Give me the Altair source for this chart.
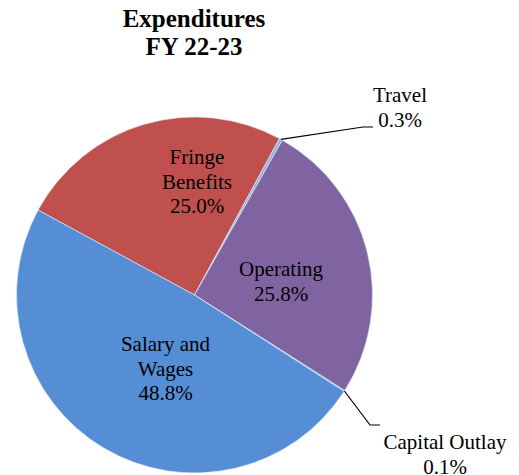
import math
import altair as alt
import pandas as pd

# ---- data ----
categories = ["Fringe Benefits", "Travel", "Operating", "Capital Outlay", "Salary and Wages"]
percents = [25.0, 0.3, 25.8, 0.1, 48.8]
label_lines = [["Fringe", "Benefits"], ["Travel"], ["Operating"], ["Capital Outlay"], ["Salary and", "Wages"]]
title_lines = ["Expenditures", "FY 22-23"]

# ---- style / layout ----
colors = ["#C0504D", "#95B3D7", "#8064A2", "#4BACC6", "#558ED5"]
W, H = 503, 467
CX, CY, R = 186.5, 287.0, 178.0
START_DEG = 298.5
FONT = "Liberation Serif"
label_pos = {  # label anchor (centre x, first baseline y) in plot pixels
    "Fringe Benefits": (189, 156),
    "Travel": (392, 94),
    "Operating": (273, 268),
    "Capital Outlay": (437, 441),
    "Salary and Wages": (157.5, 343),
}
leader_bends = {  # elbow and end of leader lines
    "Travel": [(355, 119), (365, 119)],
    "Capital Outlay": [(362, 417), (372, 417)],
}

start = math.radians(START_DEG)
df = pd.DataFrame({"cat": categories, "pct": percents, "idx": list(range(len(categories)))})

pie = alt.Chart(df).mark_arc(outerRadius=R, stroke="#e8eef8", strokeWidth=0.6).encode(
    theta=alt.Theta("pct:Q", stack=True, scale=alt.Scale(domain=[0, 100], range=[start, start + 2 * math.pi])),
    color=alt.Color("cat:N", scale=alt.Scale(domain=categories, range=colors), legend=None),
    order=alt.Order("idx:Q"),
    x=alt.value(CX),
    y=alt.value(CY),
)

xs = alt.Scale(domain=[0, W], nice=False, zero=False)
ys = alt.Scale(domain=[0, H], nice=False, zero=False, reverse=True)

# labels
lab_rows = []
for c, p, lines in zip(categories, percents, label_lines):
    x, y = label_pos[c]
    lab_rows.append({"cat": c, "x": x, "y": y, "t": "\n".join(lines + [f"{p:.1f}%"])})
lab_df = pd.DataFrame(lab_rows)
labels = alt.Chart(lab_df).mark_text(
    font=FONT, fontSize=21, lineHeight=24.5, baseline="alphabetic", align="center",
    lineBreak="\n", color="black",
).encode(
    x=alt.X("x:Q", scale=xs, axis=None),
    y=alt.Y("y:Q", scale=ys, axis=None),
    text="t:N",
)

# leader lines from slice mid-angle on the rim
cum = 0.0
line_rows = []
for c, p in zip(categories, percents):
    mid = start + (cum + p / 2) / 100 * 2 * math.pi
    cum += p
    if c in leader_bends:
        pts = [(CX + R * math.sin(mid), CY - R * math.cos(mid))] + leader_bends[c]
        for i, (x, y) in enumerate(pts):
            line_rows.append({"cat": c, "i": i, "x": x, "y": y})
line_df = pd.DataFrame(line_rows)
leaders = alt.Chart(line_df).mark_line(color="black", strokeWidth=1.2).encode(
    x=alt.X("x:Q", scale=xs, axis=None),
    y=alt.Y("y:Q", scale=ys, axis=None),
    detail="cat:N",
    order="i:Q",
)

title_df = pd.DataFrame({"x": [186], "y": [19], "t": ["\n".join(title_lines)]})
title = alt.Chart(title_df).mark_text(
    font=FONT, fontSize=25, fontWeight="bold", lineHeight=28, baseline="alphabetic",
    align="center", lineBreak="\n", color="black",
).encode(
    x=alt.X("x:Q", scale=xs, axis=None),
    y=alt.Y("y:Q", scale=ys, axis=None),
    text="t:N",
)

chart = alt.layer(pie, leaders, labels, title).properties(
    width=W, height=H, padding=0, autosize="none", background="white"
).configure_view(stroke=None)

chart.save("out.html", embed_options={"renderer": "svg", "actions": False})
